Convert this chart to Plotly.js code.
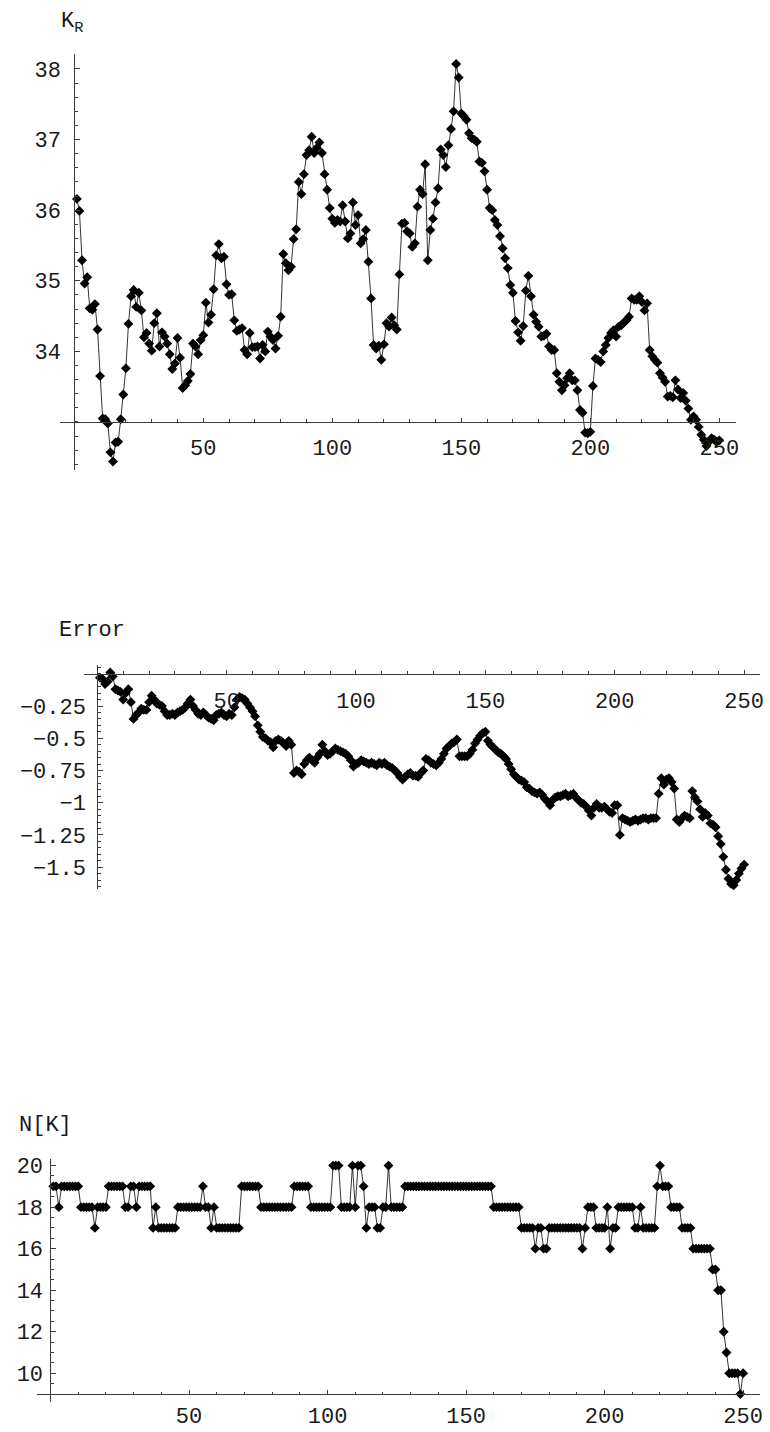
<!DOCTYPE html>
<html><head><meta charset="utf-8">
<script src="https://cdn.plot.ly/plotly-3.0.1.min.js"></script>
<style>html,body{margin:0;padding:0;background:#fff}#chart{width:770px;height:1432px}</style>
</head><body><div id="chart"></div>
<script>
// ---- data (index 1..250) ----
const kR = [36.16,35.99,35.29,34.96,35.05,34.61,34.59,34.67,34.31,33.65,
 33.05,33.04,32.98,32.57,32.44,32.71,32.72,33.04,33.39,33.76,
 34.39,34.78,34.87,34.63,34.83,34.58,34.20,34.26,34.11,34.01,
 34.40,34.54,34.07,34.27,34.21,34.11,33.96,33.75,33.83,34.19,
 33.91,33.48,33.52,33.58,33.68,34.11,34.07,33.96,34.16,34.23,
 34.69,34.41,34.52,34.88,35.36,35.52,35.32,35.34,34.95,34.80,
 34.81,34.44,34.29,34.31,34.33,34.02,33.96,34.26,34.06,34.06,
 34.07,33.90,34.09,34.00,34.28,34.21,34.16,34.04,34.22,34.49,
 35.38,35.25,35.15,35.20,35.59,35.73,36.40,36.23,36.51,36.78,
 36.85,37.04,36.81,36.88,36.96,36.81,36.51,36.29,36.03,35.88,
 35.82,35.86,35.84,36.07,35.84,35.60,35.67,36.11,35.79,35.93,
 35.53,35.59,35.72,35.27,34.75,34.09,34.04,34.08,33.88,34.10,
 34.40,34.35,34.48,34.37,34.31,35.09,35.81,35.82,35.70,35.67,
 35.48,35.53,36.05,36.29,36.23,36.65,35.29,35.72,35.88,36.11,
 36.31,36.86,36.78,36.61,36.92,37.15,37.40,38.07,37.88,37.37,
 37.33,37.28,37.09,37.02,37.00,36.97,36.69,36.67,36.55,36.29,
 36.03,36.00,35.86,35.79,35.63,35.46,35.32,35.18,34.94,34.83,
 34.43,34.27,34.15,34.36,34.86,35.07,34.78,34.52,34.42,34.35,
 34.21,34.22,34.25,34.07,34.02,34.02,33.69,33.57,33.45,33.52,
 33.62,33.69,33.59,33.59,33.45,33.17,33.13,32.85,32.84,32.86,
 33.51,33.90,33.88,33.85,34.00,34.09,34.19,34.26,34.30,34.21,
 34.35,34.37,34.41,34.44,34.49,34.75,34.73,34.73,34.78,34.70,
 34.58,34.68,34.02,33.93,33.88,33.84,33.69,33.63,33.57,33.36,
 33.37,33.35,33.59,33.46,33.34,33.41,33.30,33.19,33.03,33.08,
 33.03,32.93,32.82,32.75,32.66,32.72,32.77,32.75,32.72,32.74];

const errorVals = [-0.03,-0.04,-0.08,-0.06,0.01,-0.02,-0.12,-0.13,-0.14,-0.20,
 -0.15,-0.12,-0.22,-0.35,-0.32,-0.30,-0.27,-0.28,-0.28,-0.22,
 -0.17,-0.20,-0.23,-0.24,-0.25,-0.29,-0.32,-0.32,-0.31,-0.32,
 -0.30,-0.29,-0.28,-0.26,-0.23,-0.20,-0.25,-0.28,-0.31,-0.32,
 -0.30,-0.32,-0.34,-0.35,-0.36,-0.32,-0.31,-0.30,-0.32,-0.33,
 -0.31,-0.32,-0.26,-0.20,-0.18,-0.19,-0.20,-0.23,-0.26,-0.29,
 -0.33,-0.40,-0.45,-0.49,-0.50,-0.52,-0.53,-0.57,-0.52,-0.51,
 -0.52,-0.54,-0.56,-0.52,-0.55,-0.77,-0.75,-0.76,-0.78,-0.70,
 -0.67,-0.65,-0.67,-0.69,-0.65,-0.62,-0.55,-0.60,-0.63,-0.62,
 -0.60,-0.58,-0.59,-0.60,-0.61,-0.62,-0.64,-0.67,-0.72,-0.70,
 -0.69,-0.67,-0.68,-0.69,-0.70,-0.69,-0.70,-0.71,-0.69,-0.70,
 -0.69,-0.71,-0.72,-0.73,-0.75,-0.77,-0.80,-0.82,-0.80,-0.78,
 -0.77,-0.79,-0.79,-0.80,-0.77,-0.75,-0.66,-0.67,-0.69,-0.70,
 -0.71,-0.69,-0.66,-0.62,-0.58,-0.56,-0.54,-0.53,-0.51,-0.64,
 -0.64,-0.64,-0.64,-0.62,-0.59,-0.54,-0.51,-0.48,-0.46,-0.45,
 -0.52,-0.55,-0.57,-0.59,-0.61,-0.62,-0.64,-0.66,-0.70,-0.74,
 -0.78,-0.80,-0.82,-0.83,-0.84,-0.88,-0.89,-0.91,-0.92,-0.93,
 -0.92,-0.94,-0.97,-0.99,-1.02,-0.98,-0.96,-0.95,-0.95,-0.94,
 -0.93,-0.95,-0.94,-0.93,-0.96,-0.98,-1.00,-1.01,-1.03,-1.06,
 -1.10,-1.04,-1.01,-1.04,-1.04,-1.03,-1.05,-1.07,-1.08,-1.02,
 -1.02,-1.25,-1.12,-1.13,-1.14,-1.15,-1.14,-1.13,-1.14,-1.13,
 -1.12,-1.12,-1.13,-1.12,-1.12,-1.12,-0.93,-0.81,-0.86,-0.82,
 -0.81,-0.84,-0.89,-1.13,-1.15,-1.12,-1.10,-1.11,-1.12,-0.91,
 -0.96,-0.99,-1.05,-1.11,-1.08,-1.10,-1.16,-1.17,-1.19,-1.26,
 -1.32,-1.42,-1.52,-1.59,-1.63,-1.64,-1.60,-1.55,-1.51,-1.48];

const nK = [19,19,18,19,19,19,19,19,19,19,
 18,18,18,18,18,17,18,18,18,18,
 19,19,19,19,19,19,18,18,19,19,
 18,19,19,19,19,19,17,18,17,17,
 17,17,17,17,17,18,18,18,18,18,
 18,18,18,18,19,18,18,17,18,17,
 17,17,17,17,17,17,17,17,19,19,
 19,19,19,19,19,18,18,18,18,18,
 18,18,18,18,18,18,18,19,19,19,
 19,19,19,18,18,18,18,18,18,18,
 18,20,20,20,18,18,18,18,20,18,
 20,20,19,17,18,18,18,17,17,18,
 18,20,18,18,18,18,18,19,19,19,
 19,19,19,19,19,19,19,19,19,19,
 19,19,19,19,19,19,19,19,19,19,
 19,19,19,19,19,19,19,19,19,18,
 18,18,18,18,18,18,18,18,18,17,
 17,17,17,17,16,17,17,16,16,17,
 17,17,17,17,17,17,17,17,17,17,
 17,16,17,18,18,18,17,17,17,17,
 18,16,17,17,18,18,18,18,18,18,
 17,17,18,17,17,17,17,17,19,20,
 19,19,19,18,18,18,18,17,17,17,
 17,16,16,16,16,16,16,16,15,15,
 14,14,12,11,10,10,10,10,9,10];

const xTicks = [50,100,150,200,250];
const kTicks = [34,35,36,37,38];
const errTicks = [-0.25,-0.5,-0.75,-1,-1.25,-1.5];
const errTickText = ['\u22120.25','\u22120.5','\u22120.75','\u22121','\u22121.25','\u22121.5'];
const nTicks = [10,12,14,16,18,20];

// ---- layout helpers ----
const W = 770, H = 1432;
const AX = '#3c3c3c';
const MONO = 'Liberation Mono, Courier New, monospace';
const tickFont = {family: MONO, size: 22, color: '#1a1a1a'};

function makePanel(pxL, pxR, pyT, pyB, xr, yr, xCross, yCross, opts) {
  const xd = [pxL / W, pxR / W];
  const yd = [1 - pyB / H, 1 - pyT / H];
  const xPos = yd[0] + (xCross - yr[0]) / (yr[1] - yr[0]) * (yd[1] - yd[0]);
  const yPos = xd[0] + (yCross - xr[0]) / (xr[1] - xr[0]) * (xd[1] - xd[0]);
  const common = {showline: true, linecolor: AX, linewidth: 1, showgrid: false, zeroline: false,
    ticks: 'inside', tickwidth: 1, tickcolor: AX, tickfont: tickFont, tickmode: 'array',
    anchor: 'free', fixedrange: true, automargin: false};
  const xa = Object.assign({}, common, {domain: xd, range: xr, position: xPos, side: 'bottom',
    tickvals: xTicks, ticklen: 4, ticklabelstandoff: opts.xStand,
    minor: {ticks: 'inside', ticklen: 2.5, tickwidth: 1, tickcolor: AX, tickmode: 'linear', tick0: 0, dtick: 10, showgrid: false}});
  const ya = Object.assign({}, common, {domain: yd, range: yr, position: yPos, side: 'left',
    tickvals: opts.yTicks, ticktext: opts.yText, ticklen: 5, ticklabelstandoff: opts.yStand,
    minor: {ticks: 'inside', ticklen: 2.7, tickwidth: 1, tickcolor: AX, tickmode: 'linear', tick0: opts.minor0, dtick: opts.minorD, showgrid: false}});
  return [xa, ya];
}

const p1 = makePanel(60, 736, 54, 470, [-5.54, 256.47], [32.32, 38.212], 33, 0,
  {yTicks: kTicks, yText: kTicks.map(String), minor0: 32.2, minorD: 0.2, xStand: 6, yStand: 9});
const p2 = makePanel(84, 760, 665, 889, [-5.14, 256.17], [-1.6695, 0.0683], 0, 0,
  {yTicks: errTicks, yText: errTickText, minor0: 0, minorD: 0.05, xStand: 7, yStand: 7});
const p3 = makePanel(37, 760, 1159, 1402, [-4.87, 256.1], [8.618, 20.318], 9, 0,
  {yTicks: nTicks, yText: nTicks.map(String), minor0: 8, minorD: 0.5, xStand: 2, yStand: 3});

const idx = kR.map((_, i) => i + 1);
function series(y, xa, ya) {
  return {x: idx, y: y, xaxis: xa, yaxis: ya, type: 'scatter', mode: 'lines+markers',
    line: {color: '#000', width: 0.8}, marker: {symbol: 'diamond', size: 7.6, color: '#000'},
    cliponaxis: false, hoverinfo: 'skip', showlegend: false};
}
const data = [series(kR, 'x', 'y'), series(errorVals, 'x2', 'y2'), series(nK, 'x3', 'y3')];

const titleFont = {family: MONO, size: 22, color: '#1a1a1a'};
const layout = {
  width: W, height: H, margin: {l: 0, r: 0, t: 0, b: 0, pad: 0},
  paper_bgcolor: '#fff', plot_bgcolor: 'rgba(0,0,0,0)', showlegend: false,
  xaxis: p1[0], yaxis: p1[1], xaxis2: p2[0], yaxis2: p2[1], xaxis3: p3[0], yaxis3: p3[1],
  annotations: [
    {text: 'K<sub>R</sub>', xref: 'paper', yref: 'paper', x: 59 / W, y: 1 - 23 / H, xanchor: 'left', yanchor: 'middle', showarrow: false, font: titleFont},
    {text: 'Error', xref: 'paper', yref: 'paper', x: 57 / W, y: 1 - 631 / H, xanchor: 'left', yanchor: 'middle', showarrow: false, font: titleFont},
    {text: 'N[K]', xref: 'paper', yref: 'paper', x: 17 / W, y: 1 - 1125 / H, xanchor: 'left', yanchor: 'middle', showarrow: false, font: titleFont}
  ]
};
Plotly.newPlot('chart', data, layout, {staticPlot: true, displayModeBar: false});
</script></body></html>
